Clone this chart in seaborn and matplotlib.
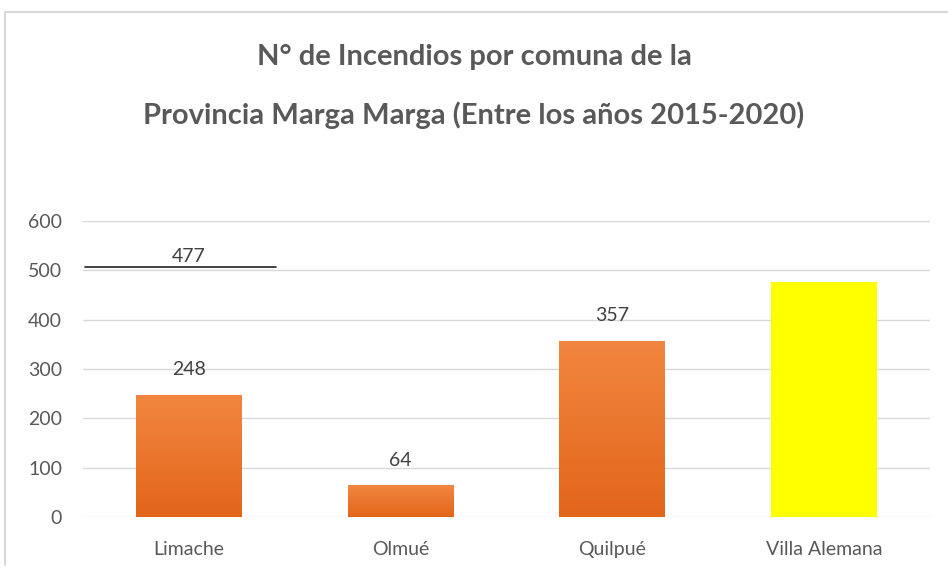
import numpy as np
import pandas as pd
import matplotlib
matplotlib.use("Agg")
import matplotlib.pyplot as plt
from matplotlib.lines import Line2D
from matplotlib.colors import LinearSegmentedColormap
import seaborn as sns

comunas = ["Limache", "Olmué", "Quilpué", "Villa Alemana"]
incendios = [248, 64, 357, 477]
yticks = [0, 100, 200, 300, 400, 500, 600]
title_lines = ["N° de Incendios por comuna de la",
               "Provincia Marga Marga (Entre los años 2015-2020)"]

sns.set_theme(style="white")
plt.rcParams['font.family'] = ['Lato', 'DejaVu Sans']

W, H = 948, 574
fig = plt.figure(figsize=(W / 100, H / 100), dpi=100)
ax = fig.add_axes([83 / W, 1 - 517 / H, (930 - 83) / W, (517 - 221) / H])

df = pd.DataFrame({"comuna": comunas, "n": incendios})
colors = ["#EE7A30", "#EE7A30", "#EE7A30", "#FFFF00"]
sns.barplot(data=df, x="comuna", y="n", hue="comuna", palette=colors,
            width=0.5, legend=False, ax=ax, saturation=1, edgecolor="none")

# gradient on orange bars
grad = np.linspace(0, 1, 256).reshape(-1, 1)
cmap = LinearSegmentedColormap.from_list("og", ["#E2661A", "#F28640"])
for i, p in enumerate(ax.patches[:4]):
    if i == 3:
        continue
    x0, y0 = p.get_x(), p.get_y()
    w, h = p.get_width(), p.get_height()
    im = ax.imshow(grad, extent=[x0, x0 + w, y0, y0 + h], origin="lower",
                   cmap=cmap, aspect="auto", zorder=p.get_zorder() + 0.1)
    im.set_clip_path(p)

ax.set_xlim(-0.5, 3.5)
ax.set_ylim(0, 600)
ax.set_yticks(yticks)
ax.set_yticklabels([str(t) for t in yticks])
ax.grid(axis="y", color="#D9D9D9", linewidth=1)
ax.set_axisbelow(True)
for s in ax.spines.values():
    s.set_visible(False)
ax.set_xlabel("")
ax.set_ylabel("")
ax.tick_params(axis="both", length=0, labelsize=14, labelcolor="#595959")
ax.tick_params(axis="y", pad=15)
ax.tick_params(axis="x", pad=17)

# value labels (the 477 label sits above Limache in the reference)
label_x = [0, 1, 2, 0]
for xi, v in zip(label_x, incendios):
    ax.annotate(str(v), xy=(xi, v), xytext=(0, 12), textcoords="offset points",
                ha="center", va="bottom", fontsize=14, color="#404040")
ax.plot([-0.49, 0.41], [507, 507], color="#222222", linewidth=1.2, clip_on=False)

fig.text(0.5, 1 - 57 / H, title_lines[0], ha="center", va="center",
         fontsize=21, fontweight="bold", color="#595959")
fig.text(0.5, 1 - 115 / H, title_lines[1], ha="center", va="center",
         fontsize=21, fontweight="bold", color="#595959")

# chart frame: only top and left edges visible
fig.add_artist(Line2D([5 / W, 1.0], [1 - 12 / H, 1 - 12 / H], transform=fig.transFigure,
                      color="#D9D9D9", linewidth=1.5))
fig.add_artist(Line2D([5 / W, 5 / W], [1 - 12 / H, 1 - 565 / H], transform=fig.transFigure,
                      color="#D9D9D9", linewidth=1.5))

fig.savefig("out.png", dpi=100)
